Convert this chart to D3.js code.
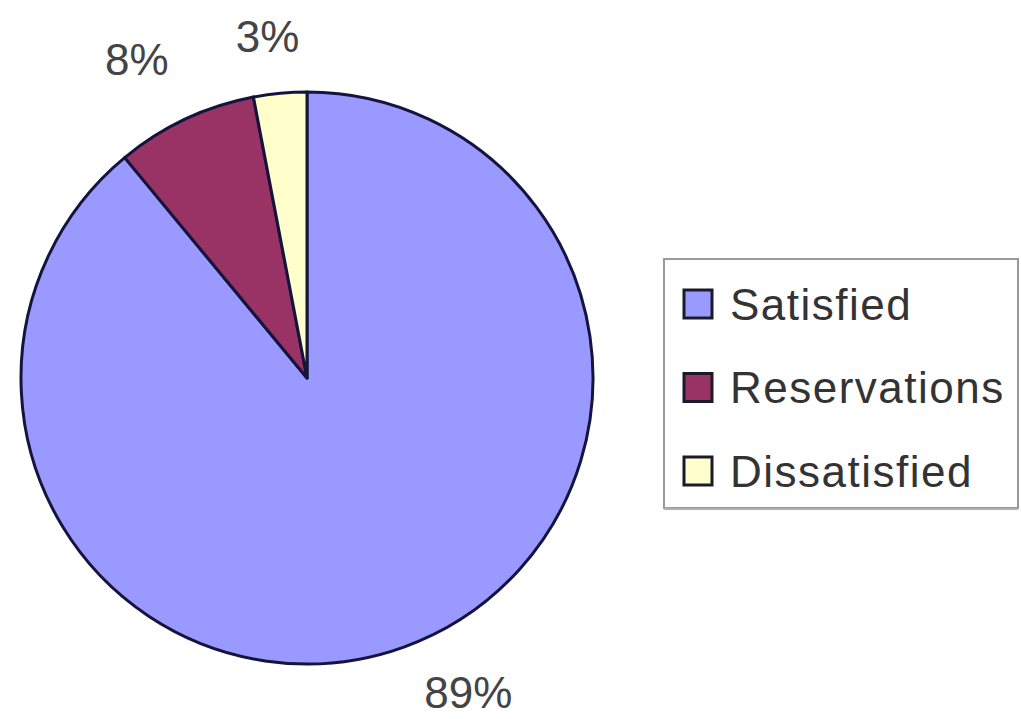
<!DOCTYPE html>
<html>
<head>
<meta charset="utf-8">
<script src="https://cdn.jsdelivr.net/npm/d3@7"></script>
<style>
  html, body { margin: 0; padding: 0; background: #ffffff; }
  svg { display: block; }
  text { font-family: "Liberation Sans", Arial, sans-serif; }
</style>
</head>
<body>
<svg id="chart" width="1021" height="719"></svg>
<script>
const categories = ["Satisfied", "Reservations", "Dissatisfied"];
const values = [89, 8, 3];
const labels = ["89%", "8%", "3%"];
const colors = ["#9999FF", "#993366", "#FFFFCC"];

// layout-only nudges for the outside labels (pixels)
const labelNudges = [[41, -20], [-19, 3], [-6, 12]];

const svg = d3.select("#chart");
const cx = 307, cy = 378, r = 286, labelR = 355;

const data = categories.map((c, i) => ({ name: c, value: values[i], label: labels[i], color: colors[i], nudge: labelNudges[i] }));

const pie = d3.pie().value(d => d.value).sort(null);
const arcs = pie(data);
const arc = d3.arc().innerRadius(0).outerRadius(r);
const labelArc = d3.arc().innerRadius(labelR).outerRadius(labelR);

const g = svg.append("g").attr("transform", `translate(${cx},${cy})`);
g.selectAll("path.slice")
  .data(arcs)
  .enter().append("path")
  .attr("class", "slice")
  .attr("d", arc)
  .attr("fill", d => d.data.color)
  .attr("stroke", "#14143c")
  .attr("stroke-width", 3)
  .attr("stroke-linejoin", "round");

g.selectAll("text.lbl")
  .data(arcs)
  .enter().append("text")
  .attr("class", "lbl")
  .attr("transform", d => {
    const c = labelArc.centroid(d);
    return `translate(${c[0] + d.data.nudge[0]},${c[1] + d.data.nudge[1]})`;
  })
  .attr("text-anchor", "middle")
  .attr("dominant-baseline", "central")
  .attr("font-size", 44)
  .attr("fill", "#444444")
  .text(d => d.data.label);

// Legend
const lx = 664, ly = 259, lw = 354, lh = 249;
const leg = svg.append("g");
leg.append("rect")
  .attr("x", lx).attr("y", ly).attr("width", lw).attr("height", lh)
  .attr("fill", "#ffffff")
  .attr("stroke", "#9a9a9a")
  .attr("stroke-width", 2);
leg.append("line")
  .attr("x1", lx).attr("x2", lx + lw)
  .attr("y1", ly + lh + 1).attr("y2", ly + lh + 1)
  .attr("stroke", "#b0b0b0").attr("stroke-width", 2);

const legY = d3.scalePoint().domain(categories).range([ly + 45, ly + 212]);
const items = leg.selectAll("g.item").data(data).enter().append("g")
  .attr("class", "item")
  .attr("transform", d => `translate(${lx}, ${legY(d.name)})`);
items.append("rect")
  .attr("x", 20).attr("y", -14).attr("width", 28).attr("height", 28)
  .attr("fill", d => d.color)
  .attr("stroke", "#1a1a2a").attr("stroke-width", 3);
items.append("text")
  .attr("x", 66).attr("y", 0)
  .attr("dominant-baseline", "central")
  .attr("font-size", 44)
  .attr("letter-spacing", 1.5)
  .attr("fill", "#333333")
  .text(d => d.name);
</script>
</body>
</html>
